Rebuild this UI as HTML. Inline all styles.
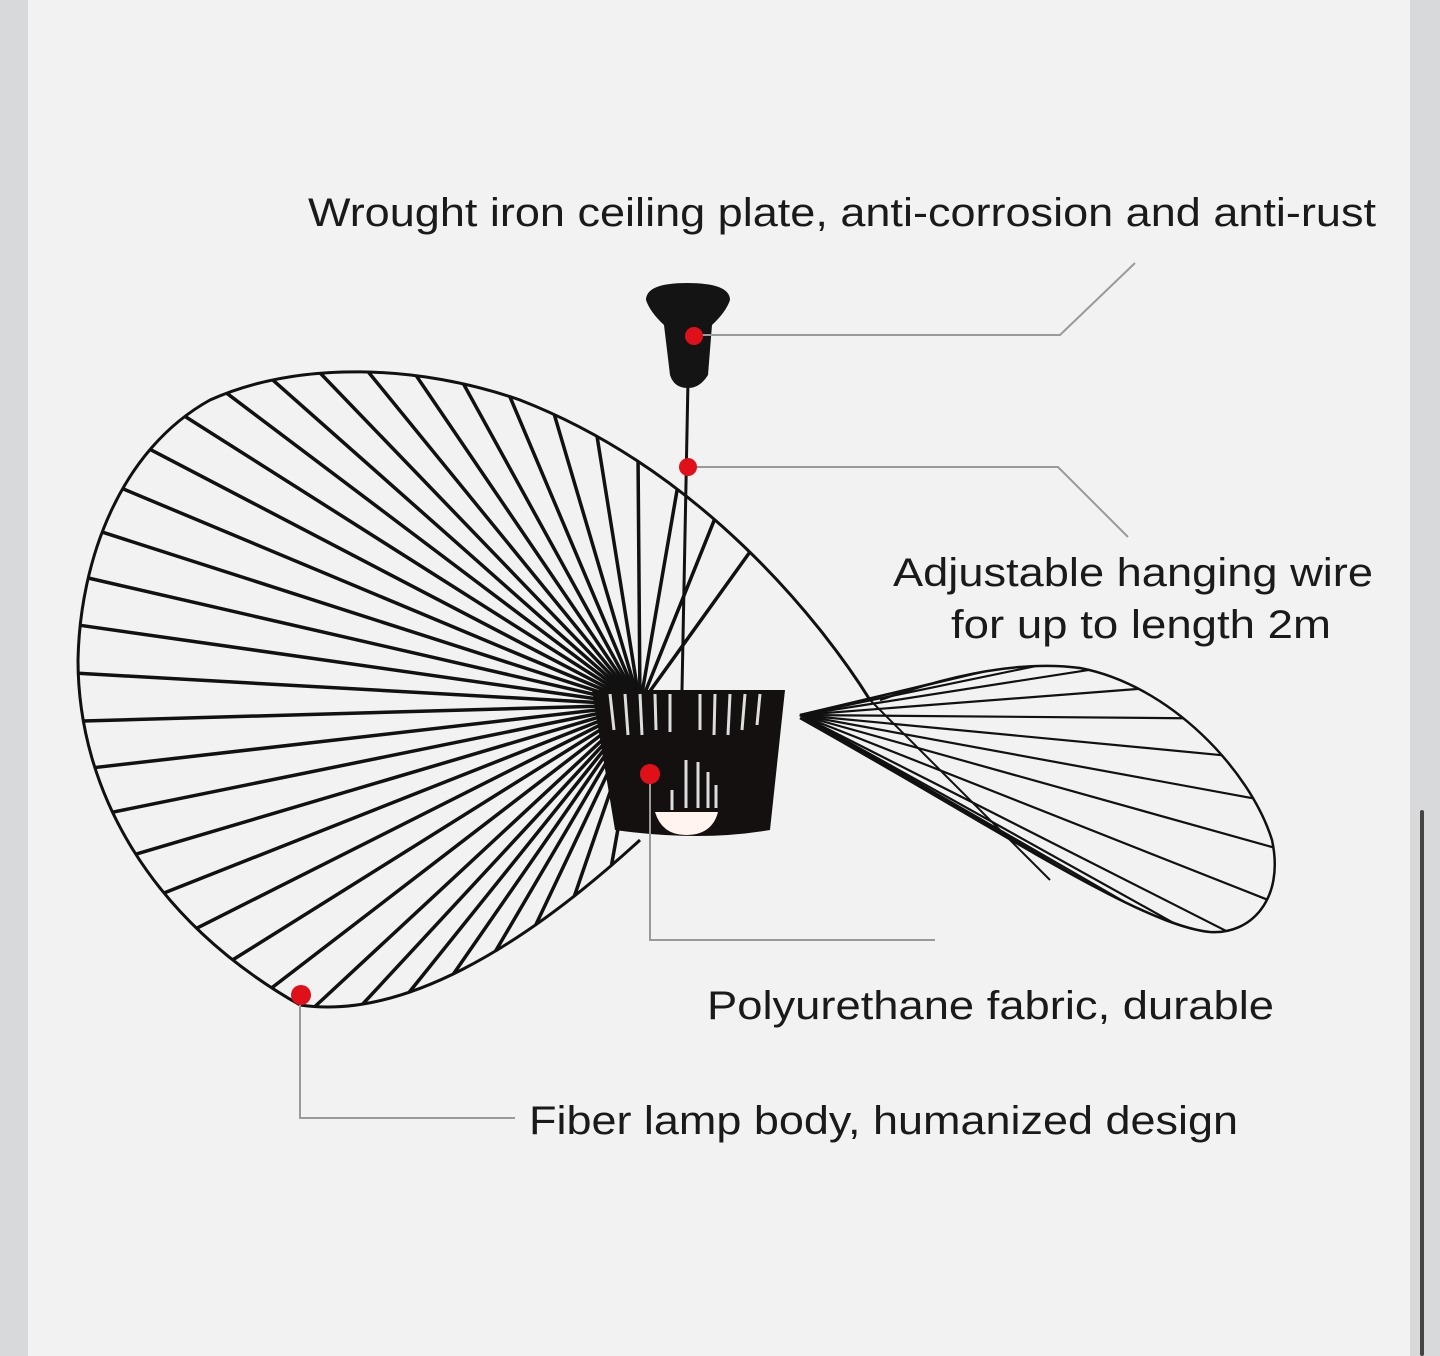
<!DOCTYPE html>
<html><head><meta charset="utf-8"><style>
html,body{margin:0;padding:0;}
body{width:1440px;height:1356px;background:#f2f2f2;position:relative;overflow:hidden;}
.l{position:absolute;left:0;top:0;width:28px;height:1356px;background:#d8d9db;}
.r{position:absolute;left:1410px;top:0;width:30px;height:1356px;background:#d8d9db;}
.sb{position:absolute;left:1420px;top:810px;width:4px;height:546px;background:#444;border-radius:2px;}
svg{position:absolute;left:0;top:0;}
text{font-family:"Liberation Sans",sans-serif;font-size:40px;fill:#1a1a1a;}
</style></head><body>
<div class="l"></div><div class="r"></div><div class="sb"></div>
<svg width="1440" height="1356" viewBox="0 0 1440 1356">
<g id="rays" stroke="#111" fill="none"></g>
<path id="lo" d="M870,700 C820,620 700,470 520,400 C420,365 300,360 210,400 C120,450 80,560 78,660 C78,790 150,920 300,1005 C400,1020 520,950 640,840" stroke="#111" stroke-width="3" fill="none"/>
<path d="M870,700 C930,760 990,820 1050,880" stroke="#111" stroke-width="2" fill="none"/>
<path id="ro" d="M880,700 C950,675 1020,660 1080,668 C1170,685 1250,770 1272,840 C1285,900 1250,935 1210,932 C1140,925 1000,830 800,718" stroke="#111" stroke-width="2.5" fill="none"/>
<path d="M592,690 L785,690 L770,830 Q700,842 615,830 Z" fill="#141010"/>
<g stroke="#ddd" stroke-width="3">
<line x1="610" y1="694" x2="614" y2="730"/><line x1="625" y1="694" x2="628" y2="735"/><line x1="640" y1="694" x2="642" y2="735"/><line x1="655" y1="694" x2="656" y2="730"/><line x1="670" y1="694" x2="670" y2="732"/><line x1="700" y1="694" x2="700" y2="730"/><line x1="715" y1="694" x2="714" y2="735"/><line x1="730" y1="694" x2="728" y2="735"/><line x1="745" y1="694" x2="742" y2="730"/><line x1="760" y1="694" x2="757" y2="725"/>
<line x1="672" y1="790" x2="672" y2="810"/><line x1="686" y1="760" x2="686" y2="808"/><line x1="698" y1="762" x2="698" y2="808"/><line x1="708" y1="772" x2="708" y2="808"/><line x1="716" y1="785" x2="716" y2="808"/>
</g>
<path d="M655,812 L718,812 Q712,835 686,835 Q662,835 655,812Z" fill="#fff5ee"/>
<line x1="688" y1="380" x2="682" y2="690" stroke="#111" stroke-width="3"/>
<path d="M646,300 Q646,283 687,283 Q730,283 730,300 Q726,312 712,325 L708,375 Q700,388 688,388 Q674,388 670,375 L664,325 Q650,312 646,300Z" fill="#141414"/>
<g stroke="#9a9a9a" stroke-width="2" fill="none">
<polyline points="695,335 1060,335 1135,263"/>
<polyline points="688,467 1058,467 1128,537"/>
<polyline points="650,775 650,940 935,940"/>
<polyline points="300,995 300,1118 515,1118"/>
</g>
<g fill="#e0101a">
<circle cx="694" cy="336" r="9"/><circle cx="688" cy="467" r="9"/><circle cx="650" cy="774" r="10"/><circle cx="301" cy="995" r="10"/>
</g>
<text x="308" y="226" textLength="1068" lengthAdjust="spacingAndGlyphs">Wrought iron ceiling plate, anti-corrosion and anti-rust</text>
<text x="893" y="586" textLength="480" lengthAdjust="spacingAndGlyphs">Adjustable hanging wire</text>
<text x="951" y="638" textLength="380" lengthAdjust="spacingAndGlyphs">for up to length 2m</text>
<text x="707" y="1019" textLength="567" lengthAdjust="spacingAndGlyphs">Polyurethane fabric, durable</text>
<text x="529" y="1134" textLength="709" lengthAdjust="spacingAndGlyphs">Fiber lamp body, humanized design</text>
</svg>
<script>
(function(){
var g=document.getElementById('rays'),ns='http://www.w3.org/2000/svg';
function fan(id,fx,fy,n,w,s0,s1){
 var p=document.getElementById(id),L=p.getTotalLength();
 for(var i=0;i<n;i++){var t=s0+(s1-s0)*i/(n-1);var pt=p.getPointAtLength(L*t);
  var l=document.createElementNS(ns,'line');l.setAttribute('x1',fx);l.setAttribute('y1',fy);
  l.setAttribute('x2',pt.x);l.setAttribute('y2',pt.y);l.setAttribute('stroke-width',w);g.appendChild(l);}
}
fan('lo',640,705,36,3.5,0.1,0.98);
fan('ro',800,715,18,2.2,0.05,0.9);
})();
</script>
</body></html>
